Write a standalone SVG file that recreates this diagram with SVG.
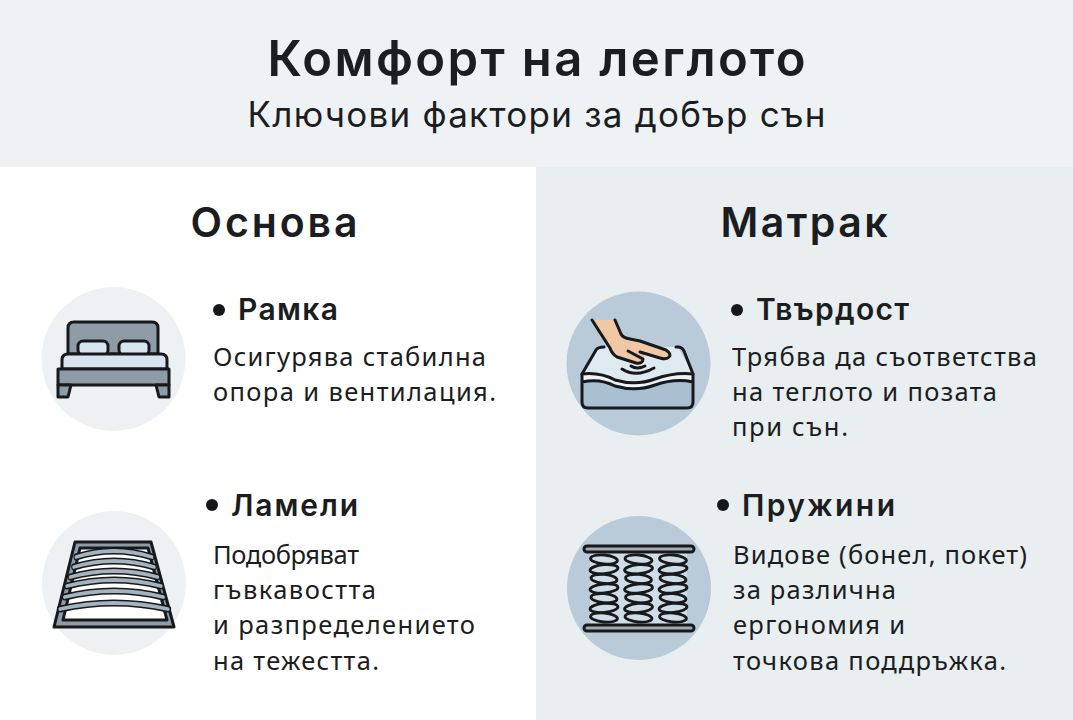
<svg xmlns="http://www.w3.org/2000/svg" xmlns:xlink="http://www.w3.org/1999/xlink" width="1073" height="720" viewBox="0 0 1073 720">
<style>
text{font-family:"Noto Sans","Open Sans","Liberation Sans",sans-serif;fill:#1b1d20}
.h{font-family:Inter,"Noto Sans",sans-serif;font-weight:600}
.t{font-size:25.500px}
.sub{font-size:35px;font-family:Inter,"Noto Sans",sans-serif;font-weight:400}
.col{font-size:41px}
.st{font-size:30px}
.s{stroke:#17191c;stroke-width:3;stroke-linejoin:round;stroke-linecap:round}
.n{fill:none}
</style>
<defs>
<path id="slat" d="M-56 4Q0 -8 56 4" fill="none"/>
<g id="coil" fill="none" stroke="#17191c" stroke-width="2.800">
<ellipse cx="0" cy="0" rx="13.500" ry="4.500" transform="rotate(5)"/><ellipse cx="0" cy="9.700" rx="14" ry="4.500" transform="rotate(-5 0 9.700)"/><ellipse cx="0" cy="19.400" rx="13" ry="4.500" transform="rotate(5 0 19.400)"/><ellipse cx="0" cy="29" rx="14" ry="4.500" transform="rotate(-5 0 29)"/><ellipse cx="0" cy="38.700" rx="13" ry="4.500" transform="rotate(5 0 38.700)"/><ellipse cx="0" cy="48.400" rx="14" ry="4.500" transform="rotate(-5 0 48.400)"/><ellipse cx="0" cy="58" rx="13.500" ry="4.500" transform="rotate(5 0 58)"/>
</g>
</defs>
<rect width="1073" height="720" fill="#fff"/>
<rect x="536" y="167" width="537" height="553" fill="#e9eef1"/>
<rect width="1073" height="167" fill="#eef2f4"/>
<g id="header">
<text class="h" x="536.500" y="76" font-size="49" text-anchor="middle" textLength="538" lengthAdjust="spacing">Комфорт на леглото</text>
<text class="sub" x="536.500" y="127" text-anchor="middle" textLength="578" lengthAdjust="spacing">Ключови фактори за добър сън</text>
</g>
<g id="col-osnova"><text class="h col" x="274" y="237" text-anchor="middle" textLength="167" lengthAdjust="spacing">Основа</text></g>
<g id="col-matrak"><text class="h col" x="804" y="237" text-anchor="middle" textLength="167" lengthAdjust="spacing">Матрак</text></g>

<g id="node-ramka">
<circle cx="113.500" cy="359" r="72" fill="#eef1f3"/>
<path class="s" fill="#8f9ba5" d="M68 354V328q0-6 6-6h78q6 0 6 6v26z"/>
<rect class="s" x="78" y="341" width="30" height="14" rx="5" fill="#d8e5ee"/>
<rect class="s" x="119" y="341" width="30" height="14" rx="5" fill="#d8e5ee"/>
<path class="s" fill="#d8e5ee" d="M62 369v-9q0-6 6-6h93q6 0 6 6v9z"/>
<rect class="s" x="58" y="369" width="111" height="16" fill="#8f9ba5"/>
<path class="s" fill="#8f9ba5" d="M58 385h13l-3 12H58zM156 385h13v12h-10z"/>
<circle cx="219" cy="310" r="6" fill="#15171a"/>
<text class="h st" x="238" y="320" textLength="100" lengthAdjust="spacing">Рамка</text>
<text class="t" x="213" y="366" textLength="273" lengthAdjust="spacing">Осигурява стабилна</text>
<text class="t" x="213" y="401" textLength="283" lengthAdjust="spacing">опора и вентилация.</text>
</g>

<g id="node-lameli">
<circle cx="114" cy="583" r="72" fill="#eef1f3"/>
<path class="s" fill="#8f9ba5" d="M75 542H151L174 627H54z"/>
<path class="s" fill="#fff" stroke-width="2.500" d="M80 548H148L167 620H63z"/>
<g stroke="#17191c" stroke-width="7" stroke-linecap="round">
<use xlink:href="#slat" transform="translate(114 553) scale(.68 1)"/>
<use xlink:href="#slat" transform="translate(114 563) scale(.72 1)"/>
<use xlink:href="#slat" transform="translate(114 573) scale(.78 1)"/>
<use xlink:href="#slat" transform="translate(114 582) scale(.84 1)"/>
<use xlink:href="#slat" transform="translate(114 593) scale(.88 1)"/>
<use xlink:href="#slat" transform="translate(114 605) scale(.96 1)"/>
</g>
<g stroke="#a5b3bf" stroke-width="3.800" stroke-linecap="round">
<use xlink:href="#slat" transform="translate(114 553) scale(.68 1)"/>
<use xlink:href="#slat" transform="translate(114 563) scale(.72 1)"/>
<use xlink:href="#slat" transform="translate(114 573) scale(.78 1)"/>
<use xlink:href="#slat" transform="translate(114 582) scale(.84 1)"/>
<use xlink:href="#slat" transform="translate(114 593) scale(.88 1)"/>
<use xlink:href="#slat" transform="translate(114 605) scale(.96 1)"/>
</g>
<circle cx="212" cy="505" r="6" fill="#15171a"/>
<text class="h st" x="231" y="516" textLength="127" lengthAdjust="spacing">Ламели</text>
<text class="t" x="213" y="564" textLength="146" lengthAdjust="spacing">Подобряват</text>
<text class="t" x="213" y="599" textLength="163" lengthAdjust="spacing">гъвкавостта</text>
<text class="t" x="213" y="634" textLength="262" lengthAdjust="spacing">и разпределението</text>
<text class="t" x="213" y="670" textLength="166" lengthAdjust="spacing">на тежестта.</text>
</g>

<g id="node-tvardost">
<circle cx="638.500" cy="363.500" r="72" fill="#b9cad9"/>
<path fill="#dfe9f0" d="M582 374L598 348Q600 346 605 347H672Q676 346 679 349L693 374Q675 372 655 379Q636 386 615 380Q600 372 582 374z"/>
<path fill="#a9bfd2" d="M582 382Q600 378 615 386Q636 392 655 385Q675 378 693 382V402q0 5-5 6H588q-6 0-6-6z"/>
<path fill="#eef3f6" d="M582 374Q600 372 615 380Q636 386 655 379Q675 372 693 374V382Q675 378 655 385Q636 392 615 386Q600 378 582 382z"/>
<path class="s n" d="M582 374V402q0 6 6 6H687q6 0 6-6V374M582 382Q600 378 615 386Q636 392 655 385Q675 378 693 382M582 374Q600 372 615 380Q636 386 655 379Q675 372 693 374"/>
<path class="s n" d="M582 374L596 350Q598 347 604 347M676 347H678Q682 347 684 351L693 374"/>
<path fill="#f1c8a5" d="M592 320H615L623 337L638 340L667 350L670 357L663 359L645 354L643 360L638 363L617 357L610 348z"/>
<path class="s n" d="M592 320L610 348Q612 354 617 357L636 363Q643 364 643 359L628 351M615 320L621 334Q623 338 630 339L640 341L666 350Q672 354 669 357Q667 360 660 358L640 352"/>
<path class="s n" d="M622 369Q636 378 654 368M631 366Q637 370 645 366"/>
<circle cx="737" cy="310" r="6" fill="#15171a"/>
<text class="h st" x="756" y="320" textLength="153" lengthAdjust="spacing">Твърдост</text>
<text class="t" x="732" y="366" textLength="305" lengthAdjust="spacing">Трябва да съответства</text>
<text class="t" x="732" y="401" textLength="265" lengthAdjust="spacing">на теглото и позата</text>
<text class="t" x="732" y="436" textLength="116" lengthAdjust="spacing">при сън.</text>
</g>

<g id="node-pruzhini">
<circle cx="639" cy="588" r="72" fill="#b9cad9"/>
<rect x="590" y="552" width="97" height="74" fill="#cfdde7"/>
<use xlink:href="#coil" x="604" y="559.500"/>
<use xlink:href="#coil" x="638.500" y="559.500"/>
<use xlink:href="#coil" x="673" y="559.500"/>
<rect class="s" x="584" y="546" width="110" height="6" rx="3" fill="#a3abb2"/>
<rect class="s" x="584" y="625" width="110" height="6" rx="3" fill="#a3abb2"/>
<circle cx="723" cy="505" r="6" fill="#15171a"/>
<text class="h st" x="742" y="516" textLength="153" lengthAdjust="spacing">Пружини</text>
<text class="t" x="733" y="564" textLength="294" lengthAdjust="spacing">Видове (бонел, покет)</text>
<text class="t" x="733" y="599" textLength="163" lengthAdjust="spacing">за различна</text>
<text class="t" x="733" y="634" textLength="172" lengthAdjust="spacing">ергономия и</text>
<text class="t" x="733" y="670" textLength="273" lengthAdjust="spacing">точкова поддръжка.</text>
</g>
</svg>
